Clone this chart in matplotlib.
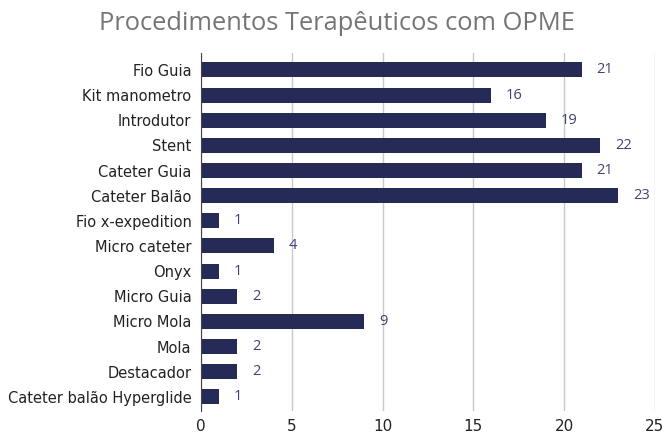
import matplotlib.pyplot as plt

categorias = ["Fio Guia", "Kit manometro", "Introdutor", "Stent", "Cateter Guia",
              "Cateter Balão", "Fio x-expedition", "Micro cateter", "Onyx",
              "Micro Guia", "Micro Mola", "Mola", "Destacador",
              "Cateter balão Hyperglide"]
quantidades = [21, 16, 19, 22, 21, 23, 1, 4, 1, 2, 9, 2, 2, 1]
ticks_x = [0, 5, 10, 15, 20, 25]

fig = plt.figure(figsize=(6.64, 4.33), dpi=100)
ax = fig.add_axes([0.303, 0.051, 0.683, 0.827])

y_pos = list(range(len(categorias)))
ax.barh(y_pos, quantidades, height=0.6, color="#262a57", zorder=3)
for y, v in zip(y_pos, quantidades):
    ax.text(v + 0.8, y, str(v), va="center", ha="left", fontsize=10.5,
            color="#3d4270", family="Open Sans")

ax.set_ylim(13.56, -0.68)
ax.set_xlim(0, 25)
ax.set_xticks(ticks_x)
ax.set_yticks(y_pos)
ax.set_yticklabels(categorias, fontsize=10.5, color="#222222")
ax.tick_params(axis="x", labelsize=11, colors="#222222", length=0, pad=6)
ax.tick_params(axis="y", length=0, pad=7)
ax.grid(axis="x", color="#c8c8c8", linewidth=1, zorder=0)
for s in ["top", "right", "bottom"]:
    ax.spines[s].set_visible(False)
ax.spines["left"].set_color("#444444")
ax.spines["left"].set_zorder(4)

fig.text(0.508, 0.945, "Procedimentos Terapêuticos com OPME", ha="center",
         va="center", fontsize=18.4, color="#757575", family="Open Sans")

fig.savefig("out.png", dpi=100)
